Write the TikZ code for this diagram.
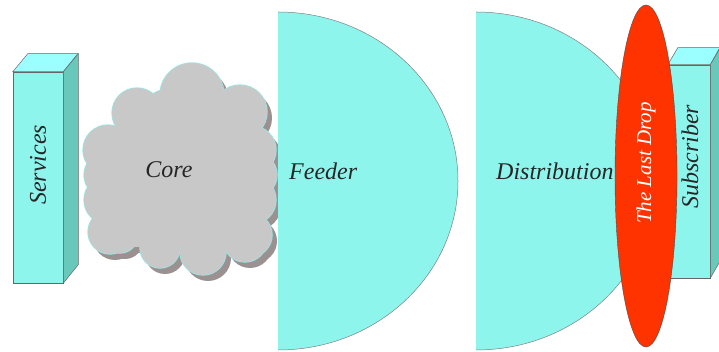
\documentclass[tikz,border=0pt]{standalone}
\usepackage{fontspec}
\setmainfont{Liberation Serif}
\usepackage{tikz}
\usetikzlibrary{
  shapes.geometric, calc, positioning
}
\definecolor{aqua}{RGB}{142,245,237}
\definecolor{aquatop}{RGB}{155,255,255}
\definecolor{aquaside}{RGB}{104,200,186}
\definecolor{cloudgray}{RGB}{200,200,200}
\definecolor{cloudshade}{RGB}{155,145,145}
\definecolor{cloudrim}{RGB}{150,235,235}
\definecolor{dropred}{RGB}{255,51,0}

% puffs of the core cloud: x/y/radius
\newcommand{\corepuffs}{192/257/32, 137/239/25, 165/242/20, 240/240/27,
  108/202/25, 106/177/22, 108/152/24, 110/120/22,
  252/202/24, 255/177/22, 252/152/24, 250/117/22,
  120/117/18, 160/104/20, 203/100/23, 245/112/22}
% filling between the puffs
\newcommand{\corebody}{(115,110) rectangle (250,224) (125,105) rectangle (245,235)}

\begin{document}
\begin{tikzpicture}[x=1pt, y=1pt,
    lbl/.style={font=\fontsize{24}{28}\selectfont\itshape, text=black!85, inner sep=0pt},
    frontbox/.style={draw=black!60, line width=0.5pt, fill=aqua, inner sep=0pt},
    topface/.style={draw=black!60, line width=0.5pt, fill=aquatop},
    sideface/.style={draw=black!60, line width=0.5pt, fill=aquaside},
  ]
  \useasboundingbox (0,0) rectangle (719,352);

  % services column
  \node[frontbox, minimum width=50pt, minimum height=211pt] (services) at (38,174.5) {};
  \draw[topface] (services.north west) -- ++(15,18) -- ++(50,0) -- (services.north east) -- cycle;
  \draw[sideface] (services.north east) -- ++(15,18) -- ++(0,-211) -- (services.south east) -- cycle;
  \node[lbl, rotate=90] (serviceslbl) at (38,187) {Services};

  % core cloud: shadow, rim, body
  \foreach \x/\y/\r in \corepuffs
    \fill[cloudshade] (\x+5,\y-6) circle[radius=\r pt];
  \fill[cloudshade, shift={(5,-6)}] \corebody;
  \foreach \x/\y/\r in \corepuffs
    \fill[cloudrim] (\x,\y) circle[radius=\r pt+0.7pt];
  \foreach \x/\y/\r in \corepuffs
    \fill[cloudgray] (\x,\y) circle[radius=\r pt];
  \fill[cloudgray] \corebody;
  \node[lbl] (core) at (169,182) {Core};

  % feeder
  \fill[aqua] (278,340) arc[start angle=90, end angle=-90, x radius=180pt, y radius=169pt] -- cycle;
  \draw[black!50, line width=0.5pt] (278,340) arc[start angle=90, end angle=-90, x radius=180pt, y radius=169pt];
  \node[lbl, anchor=west] (feeder) at (289,181) {Feeder};

  % distribution
  \fill[aqua] (476,340) arc[start angle=90, end angle=-90, x radius=180pt, y radius=169pt] -- cycle;
  \draw[black!50, line width=0.5pt] (476,340) arc[start angle=90, end angle=-90, x radius=180pt, y radius=169pt];
  \node[lbl, anchor=west] (distribution) at (496,181) {Distribution};

  % subscriber column
  \node[frontbox, minimum width=42pt, minimum height=213pt] (subscriber) at (689,180.5) {};
  \draw[topface] (subscriber.north west) -- ++(10,17) -- ++(42,0) -- (subscriber.north east) -- cycle;
  \draw[sideface] (subscriber.north east) -- ++(10,17) -- ++(0,-213) -- (subscriber.south east) -- cycle;
  \node[lbl, rotate=90] (subscriberlbl) at (690,195) {Subscriber};

  % last drop
  \node[ellipse, fill=dropred, draw=black!70, line width=0.4pt, inner sep=0pt,
        minimum width=62pt, minimum height=342pt] (lastdrop) at (646,176) {};
  \node[lbl, text=white, font=\fontsize{21}{25}\selectfont\itshape, rotate=90]
        (droplbl) at ([yshift=13pt]lastdrop.center) {The Last Drop};
\end{tikzpicture}
\end{document}
